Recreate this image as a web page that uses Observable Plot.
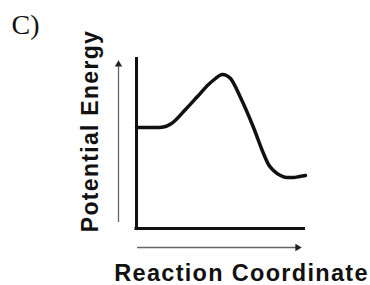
<!DOCTYPE html>
<html>
<head>
<meta charset="utf-8">
<script src="https://cdn.jsdelivr.net/npm/d3@7"></script>
<script src="https://cdn.jsdelivr.net/npm/@observablehq/plot@0.6"></script>
<style>
  html, body { margin: 0; padding: 0; background: #fff; }
  svg { display: block; }
</style>
</head>
<body>
<div id="chart"></div>
<script>
// Reaction coordinate (arbitrary units) and potential energy (arbitrary units)
const coord  = [0, 22, 29, 35, 49, 61, 72, 79, 83, 86, 90, 94, 104, 117, 127, 132, 137, 144, 150, 157, 163, 169];
const energy = [101, 101, 102, 105, 119, 132, 144, 150, 153, 154, 153, 150, 131, 101, 75, 64, 58, 53, 51, 51, 52, 53];

// Axis extents
const xMax = 169;
const yMax = 171;

// Arrow guides beside the axes (data units)
const upArrow    = {x: -18, y1: 6, y2: 162, head: 164};
const rightArrow = {y: -19, x1: 1, x2: 160, head: 161};

const panelLabel = "C)";
const yLabel = "Potential Energy";
const xLabel = "Reaction Coordinate";

const curve = coord.map((c, i) => ({coord: c, energy: energy[i]}));

const sans = "'Liberation Sans', Arial, Helvetica, sans-serif";

const plot = Plot.plot({
  width: 370,
  height: 285,
  marginLeft: 136,
  marginRight: 65,
  marginTop: 58,
  marginBottom: 57,
  x: {domain: [0, xMax], axis: null},
  y: {domain: [0, 170], axis: null},
  style: {background: "#fff"},
  marks: [
    // axis lines
    Plot.ruleX([0], {y1: -1.5, y2: yMax, stroke: "#111", strokeWidth: 3}),
    Plot.ruleY([0], {x1: -1.5, x2: xMax, stroke: "#111", strokeWidth: 3}),
    // energy profile
    Plot.line(curve, {x: "coord", y: "energy", curve: "monotone-x", stroke: "#111", strokeWidth: 3.5, strokeLinejoin: "round", strokeLinecap: "round"}),
    // guide arrows
    Plot.ruleX([upArrow.x], {y1: upArrow.y1, y2: upArrow.y2, stroke: "#666", strokeWidth: 1.3}),
    Plot.dot([upArrow], {x: "x", y: "head", symbol: "triangle2", r: 3.5, fill: "#222", stroke: "none"}),
    Plot.ruleY([rightArrow.y], {x1: rightArrow.x1, x2: rightArrow.x2, stroke: "#666", strokeWidth: 1.3}),
    Plot.dot([rightArrow], {x: "head", y: "y", symbol: "triangle2", r: 3.5, rotate: 90, fill: "#222", stroke: "none"}),
    // labels
    Plot.text([panelLabel], {text: d => d, frameAnchor: "top-left", dx: -125, dy: -25, textAnchor: "start", lineAnchor: "bottom", fontSize: 28, fontFamily: "'Liberation Serif', 'Times New Roman', serif", fill: "#111"}),
    Plot.text([yLabel], {text: d => d, frameAnchor: "left", rotate: -90, dx: -46, dy: -12.5, textAnchor: "middle", lineAnchor: "middle", fontSize: 23, fontWeight: "bold", fontFamily: sans, fill: "#111"}),
    Plot.text([xLabel], {text: d => d, frameAnchor: "bottom", dx: 20.5, dy: 52, textAnchor: "middle", lineAnchor: "bottom", fontSize: 23.5, fontWeight: "bold", fontFamily: sans, fill: "#111"})
  ]
});

d3.select(plot).selectAll("text")
  .filter(function () { return this.textContent === yLabel || this.textContent === xLabel; })
  .style("letter-spacing", "1.3px");

document.getElementById("chart").appendChild(plot);
</script>
</body>
</html>
